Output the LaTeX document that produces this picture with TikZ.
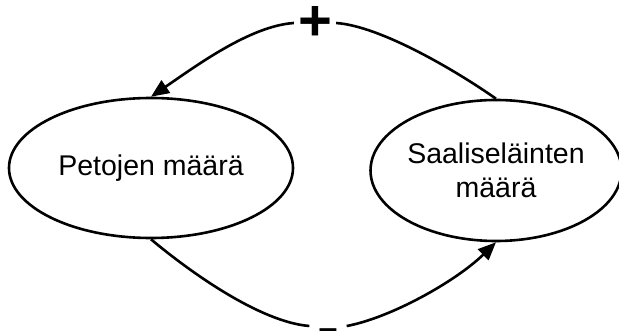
\documentclass[tikz,border=0pt]{standalone}
\usepackage{fontspec}
\setmainfont{Liberation Sans}
\usetikzlibrary{arrows.meta,shapes.geometric}

\begin{document}
\begin{tikzpicture}[x=1pt,y=-1pt,
  pop/.style={draw, ellipse, line width=2.6pt, inner sep=0pt, align=center, font=\fontsize{28.5}{34}\selectfont},
  sign/.style={inner ysep=0pt},
  loop/.style={line width=2.6pt},
  tip/.style={-{Triangle[length=18pt,width=15pt]}}]
\useasboundingbox (0,0) rectangle (619,331);
\node[pop, minimum width=284pt, minimum height=140pt] (peto) at (151,168) {Petojen määrä};
\node[pop, minimum width=244pt, minimum height=141pt] (saalis) at (496,170.5) {Saaliseläinten\\määrä};
% feedback signs
\node[sign, inner xsep=4pt, font=\fontsize{58}{58}\selectfont\bfseries] (plus) at (315,23) {+};
\node[sign, inner xsep=9pt, text height=10.5pt, text depth=-6.7pt, font=\fontsize{34}{34}\selectfont\bfseries] (minus) at (328,334) {\textendash};
% upper and lower arcs
\draw[loop] (saalis.north) .. controls (455,70) and (380,26) .. (plus.east);
\draw[loop, tip] (plus.west) .. controls (250,26) and (196,66) .. (peto.north);
\draw[loop] (peto.south) .. controls (190,272) and (260,322) .. ([yshift=8pt]minus.west);
\draw[loop, tip] ([yshift=8pt]minus.east) .. controls (390,318) and (455,282) .. (saalis.south);
\end{tikzpicture}
\end{document}
